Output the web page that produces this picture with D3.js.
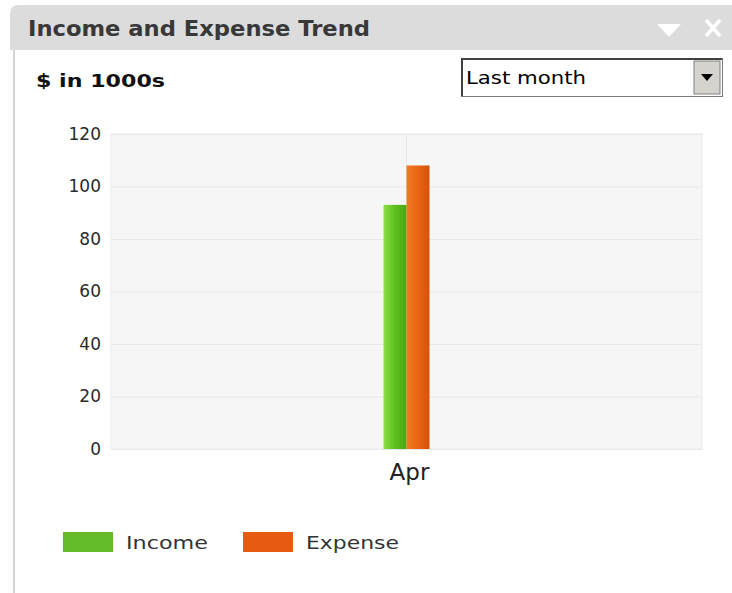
<!DOCTYPE html>
<html>
<head>
<meta charset="utf-8">
<script src="https://cdn.jsdelivr.net/npm/d3@7"></script>
<style>
  body { margin: 0; background: #fff; }
  text { font-family: "DejaVu Sans", Verdana, sans-serif; }
</style>
</head>
<body>
<div id="chart"></div>
<script>
var months = ["Apr"],
    seriesNames = ["Income", "Expense"],
    income = [93],
    expense = [108],
    yTicks = [0, 20, 40, 60, 80, 100, 120];

var width = 732, height = 593;
var plot = { left: 111, right: 702, top: 134, bottom: 449 };

var svg = d3.select("#chart").append("svg")
    .attr("width", width)
    .attr("height", height);

var defs = svg.append("defs");
var grads = [
    { id: "gIncome", stops: ["#8ee04a", "#5cc01c", "#4aa814"] },
    { id: "gExpense", stops: ["#f07c22", "#e86414", "#d4520c"] }
];
grads.forEach(function(g) {
    var lg = defs.append("linearGradient").attr("id", g.id)
        .attr("x1", "0%").attr("x2", "100%").attr("y1", "0%").attr("y2", "0%");
    g.stops.forEach(function(c, i) {
        lg.append("stop").attr("offset", (i * 50) + "%").attr("stop-color", c);
    });
});

// panel frame
svg.append("path")
    .attr("d", "M10,50 L10,14 Q10,5 19,5 L732,5 L732,50 Z")
    .attr("fill", "#dcdcdc");
svg.append("rect")
    .attr("x", 13).attr("y", 50).attr("width", 2).attr("height", height - 50)
    .attr("fill", "#d4d4d4");

svg.append("text")
    .attr("x", 28).attr("y", 36)
    .attr("font-weight", "bold")
    .attr("font-size", 21)
    .attr("fill", "#383838")
    .attr("textLength", 342).attr("lengthAdjust", "spacingAndGlyphs")
    .text("Income and Expense Trend");

// header icons
svg.append("path")
    .attr("d", "M657,24 L681,24 L669,37 Z")
    .attr("fill", "#fff");
svg.append("path")
    .attr("d", "M706,20 L720,36 M720,20 L706,36")
    .attr("stroke", "#fff").attr("stroke-width", 3.5);

svg.append("text")
    .attr("x", 36).attr("y", 87)
    .attr("font-weight", "bold")
    .attr("font-size", 17)
    .attr("fill", "#111")
    .attr("textLength", 129).attr("lengthAdjust", "spacingAndGlyphs")
    .text("$ in 1000s");

// dropdown
var dd = svg.append("g");
dd.append("rect")
    .attr("x", 461.5).attr("y", 58.5).attr("width", 261).attr("height", 38)
    .attr("fill", "#fff").attr("stroke", "#7a7a7a");
dd.append("path")
    .attr("d", "M462,96 L462,59 L722,59")
    .attr("fill", "none").attr("stroke", "#404040").attr("stroke-width", 2);
dd.append("rect")
    .attr("x", 694).attr("y", 61).attr("width", 26).attr("height", 33)
    .attr("fill", "#d6d3ce").attr("stroke", "#808080");
dd.append("path")
    .attr("d", "M701,74 L713,74 L707,81 Z")
    .attr("fill", "#000");
dd.append("text")
    .attr("x", 466).attr("y", 84)
    .attr("font-size", 18)
    .attr("fill", "#000")
    .attr("textLength", 120).attr("lengthAdjust", "spacingAndGlyphs")
    .text("Last month");

// scales
var y = d3.scaleLinear().domain([0, 120]).range([plot.bottom, plot.top]);
var x = d3.scaleBand().domain(months).range([plot.left, plot.right]);
var xs = d3.scaleBand().domain(seriesNames)
    .range([x.bandwidth() / 2 - 23, x.bandwidth() / 2 + 23]);

svg.append("rect")
    .attr("x", plot.left).attr("y", plot.top)
    .attr("width", plot.right - plot.left).attr("height", plot.bottom - plot.top)
    .attr("fill", "#f6f6f6").attr("stroke", "#ececec");

var yAxis = svg.append("g")
    .attr("transform", "translate(" + plot.left + ",0)")
    .call(d3.axisLeft(y).tickValues(yTicks)
        .tickSize(-(plot.right - plot.left)).tickPadding(10));
yAxis.select(".domain").remove();
yAxis.selectAll(".tick line").attr("stroke", "#e8e8e8");
yAxis.selectAll(".tick text")
    .attr("font-size", 17).attr("fill", "#2a2a2a")
    .attr("font-family", "DejaVu Sans, Verdana, sans-serif");

// vertical category line
svg.selectAll(".vline").data(months).enter().append("line")
    .attr("class", "vline")
    .attr("x1", function(d) { return x(d) + x.bandwidth() / 2; })
    .attr("x2", function(d) { return x(d) + x.bandwidth() / 2; })
    .attr("y1", plot.top).attr("y2", plot.bottom)
    .attr("stroke", "#e6e6e6");

var rows = months.map(function(m, i) {
    return { month: m, values: [
        { name: "Income", value: income[i], fill: "url(#gIncome)" },
        { name: "Expense", value: expense[i], fill: "url(#gExpense)" }
    ] };
});

var grp = svg.selectAll(".month").data(rows).enter().append("g")
    .attr("class", "month")
    .attr("transform", function(d) { return "translate(" + x(d.month) + ",0)"; });

grp.selectAll("rect").data(function(d) { return d.values; }).enter().append("rect")
    .attr("x", function(d) { return xs(d.name); })
    .attr("width", xs.bandwidth())
    .attr("y", function(d) { return y(d.value); })
    .attr("height", function(d) { return y(0) - y(d.value); })
    .attr("fill", function(d) { return d.fill; });

var xAxis = svg.append("g")
    .attr("transform", "translate(0," + plot.bottom + ")")
    .call(d3.axisBottom(x).tickSize(0).tickPadding(15));
xAxis.select(".domain").remove();
xAxis.selectAll(".tick text")
    .attr("font-size", 23).attr("fill", "#222")
    .attr("dx", 3)
    .attr("font-family", "Liberation Sans, Arial, sans-serif");

// legend
var legendColors = ["#66bb2a", "#e65a12"];
var legendX = [63, 243];
var legendW = [82, 93];
var leg = svg.selectAll(".legend").data(seriesNames).enter().append("g")
    .attr("class", "legend")
    .attr("transform", function(d, i) { return "translate(" + legendX[i] + ",532)"; });
leg.append("rect")
    .attr("width", 50).attr("height", 20)
    .attr("fill", function(d, i) { return legendColors[i]; });
leg.append("text")
    .attr("x", 63).attr("y", 17)
    .attr("font-size", 17).attr("fill", "#333")
    .attr("textLength", function(d, i) { return legendW[i]; })
    .attr("lengthAdjust", "spacingAndGlyphs")
    .text(function(d) { return d; });
</script>
</body>
</html>
